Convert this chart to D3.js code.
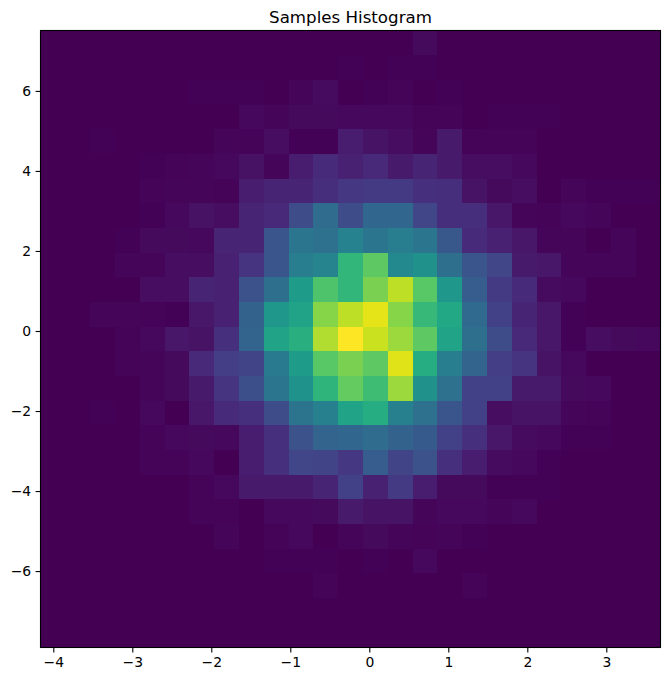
<!DOCTYPE html>
<html>
<head>
<meta charset="utf-8">
<script src="https://cdn.jsdelivr.net/npm/d3@7"></script>
<style>
html,body{margin:0;padding:0;background:#fff}
svg{display:block}
text{font-family:"DejaVu Sans",sans-serif;fill:#000}
</style>
</head>
<body>
<div id="chart"></div>
<script>
const title = "Samples Histogram";
const xTicks = [-4,-3,-2,-1,0,1,2,3];
const yTicks = [-6,-4,-2,0,2,4,6];
const xExtent = [-4.162, 3.686];
const yExtent = [-7.91, 7.51];
const maxCount = 100;
// histogram counts, relative to the peak cell = 100; top row first, left column first
const row00 = [0,0,0,0,0,0,0,0,.2,0,0,0,.2,.2,.2,2.5,0,0,0,0,0,0,0,0,0];
const row01 = [0,0,0,0,0,0,0,0,.3,.2,0,0,.5,.2,.5,.6,0,0,0,0,0,0,0,0,0];
const row02 = [0,0,0,0,0,0,.5,.5,.5,.3,1.2,3,0,.6,1,.3,.6,0,0,0,0,0,0,0,0];
const row03 = [0,0,0,0,0,0,0,.3,2,1.2,2.5,2.5,2.2,2,2,1,1,0,.5,.5,.5,.3,0,0,0];
const row04 = [0,0,.6,.3,.3,0,.3,1.2,1,3.5,.6,.6,8,5,3.5,1.5,7,1,1,1,.3,.1,.1,.1,.1];
const row05 = [0,0,0,0,.4,1,1.2,2,4.5,1.5,8,12,9,11,7,10,7,3.5,3.5,2,.3,0,0,0,0];
const row06 = [0,0,0,0,1,1.2,1.2,1,8,10,10,13,16,17,17,14,13,5,2.5,3.5,.3,1.2,.6,.4,.6];
const row07 = [0,0,0,0,.6,2,4.5,3.5,10,11,23,35,23,33,33,21,13,13,6,1.5,1,2,1.2,.3,.3];
const row08 = [0,0,0,.6,2.5,2.5,2,10,10,26,39,37,44,39,42,39,27,12,9,6,1.2,1.5,.3,1.2,.3];
const row09 = [0,0,.3,1.2,1.2,3.5,3.5,9,15,26,42,45,66,75,47,50,36,26,21,7,6,1.2,1.2,1.2,.3];
const row10 = [.3,0,.3,.3,3.5,3.5,10,9,25,36,55,72,66,80,90,74,53,29,17,12,3,2,.3,.3,.3];
const row11 = [.3,.2,1.2,1.2,1,.6,6,9,31,53,58,82,90,96,82,67,60,34,19,10,6,.6,.3,.3,.2];
const row12 = [0,0,0,1,2,6,5,14,32,58,63,88,100,92,85,75,58,36,23,11,6,.6,3.5,2.5,2];
const row13 = [.2,.2,.2,1,1.5,2.5,11,18,20,41,55,74,80,75,95,62,42,32,18,15,5,2,.3,.1,.2];
const row14 = [0,0,0,0,1.2,2.5,7,15,24,39,51,65,76,69,85,50,37,19,19,7,7,2.5,2,.3,.2];
const row15 = [.3,0,.4,.2,2,0,6,12,14,23,38,43,58,62,43,37,26,19,3.5,5,5,1.2,1,.3,.2];
const row16 = [0,0,0,.3,1,2,2.5,2.2,8,14,25,32,33,35,31,28,19,14,6,3,2,.7,.6,0,0];
const row17 = [0,0,0,0,1,1,2,.2,8,14,21,20,16,29,20,25,14,8,3,2.2,.6,.3,.2,.2,0];
const row18 = [0,0,.3,.2,0,0,1,2,7,7,7,10,19,9,17,8,2.5,2.5,.6,.6,.4,.2,0,0,0];
const row19 = [0,0,0,0,0,0,1,1,0,2,2,2.5,7,5,5,1.2,2,2.2,1.2,2,0,.2,0,0,0];
const row20 = [0,0,0,0,.2,0,0,1.2,0,1,2,0,1.5,2.5,1.2,.8,1.2,.6,0,0,.1,0,0,0,0];
const row21 = [0,0,0,0,0,0,.3,0,0,.4,.6,.6,.2,.6,0,2,0,0,.2,0,0,0,0,0,0];
const row22 = [0,0,0,0,0,0,0,0,0,0,0,1,.2,0,0,0,.2,1,0,0,0,0,0,0,0];
const row23 = [0,0,0,0,0,0,0,0,.2,0,.2,0,0,0,0,0,0,.2,0,.2,0,0,0,0,0];
const row24 = [0,0,0,0,0,0,.1,0,0,0,0,0,0,.1,0,0,0,0,0,0,0,0,0,0,0];
const rows = [row00,row01,row02,row03,row04,row05,row06,row07,row08,row09,row10,row11,row12,
              row13,row14,row15,row16,row17,row18,row19,row20,row21,row22,row23,row24];

const W = 670, H = 680;
const L = 40.5, R = 660.5, T = 30.5, B = 647.5;

const svg = d3.select("#chart").append("svg").attr("width", W).attr("height", H);
const x = d3.scaleLinear().domain(xExtent).range([L, R]);
const y = d3.scaleLinear().domain(yExtent).range([B, T]);
const color = d3.scaleSequential(d3.interpolateViridis).domain([0, maxCount]);

const nx = row00.length, ny = rows.length;
const xEdge = i => xExtent[0] + (xExtent[1] - xExtent[0]) * i / nx;
const yEdge = j => yExtent[1] - (yExtent[1] - yExtent[0]) * j / ny;

const cells = rows.flatMap((r, j) => r.map((v, i) => ({i, j, v})));
svg.append("g").attr("shape-rendering", "crispEdges").selectAll("rect").data(cells).join("rect")
  .attr("x", d => x(xEdge(d.i)))
  .attr("y", d => y(yEdge(d.j)))
  .attr("width", d => x(xEdge(d.i + 1)) - x(xEdge(d.i)))
  .attr("height", d => y(yEdge(d.j + 1)) - y(yEdge(d.j)))
  .attr("fill", d => color(d.v));

const fmt = d3.format("d");
const gx = svg.append("g").attr("transform", `translate(0,${B})`)
  .call(d3.axisBottom(x).tickValues(xTicks).tickFormat(fmt).tickSize(4.9).tickPadding(4.5));
const gy = svg.append("g").attr("transform", `translate(${L},0)`)
  .call(d3.axisLeft(y).tickValues(yTicks).tickFormat(fmt).tickSize(4.9).tickPadding(4.5));
[gx, gy].forEach(g => {
  g.selectAll(".domain").remove();
  g.selectAll("text").style("font-family", '"DejaVu Sans",sans-serif').style("font-size", "13.9px").attr("fill", "#000");
  g.selectAll("line").attr("stroke", "#000").attr("stroke-width", 1.1);
});

svg.append("rect").attr("x", L).attr("y", T).attr("width", R - L).attr("height", B - T)
  .attr("fill", "none").attr("stroke", "#000").attr("stroke-width", 1.1);

svg.append("text").attr("x", (L + R) / 2).attr("y", 22.5).attr("text-anchor", "middle")
  .style("font-size", "16.67px").text(title);
</script>
</body>
</html>
